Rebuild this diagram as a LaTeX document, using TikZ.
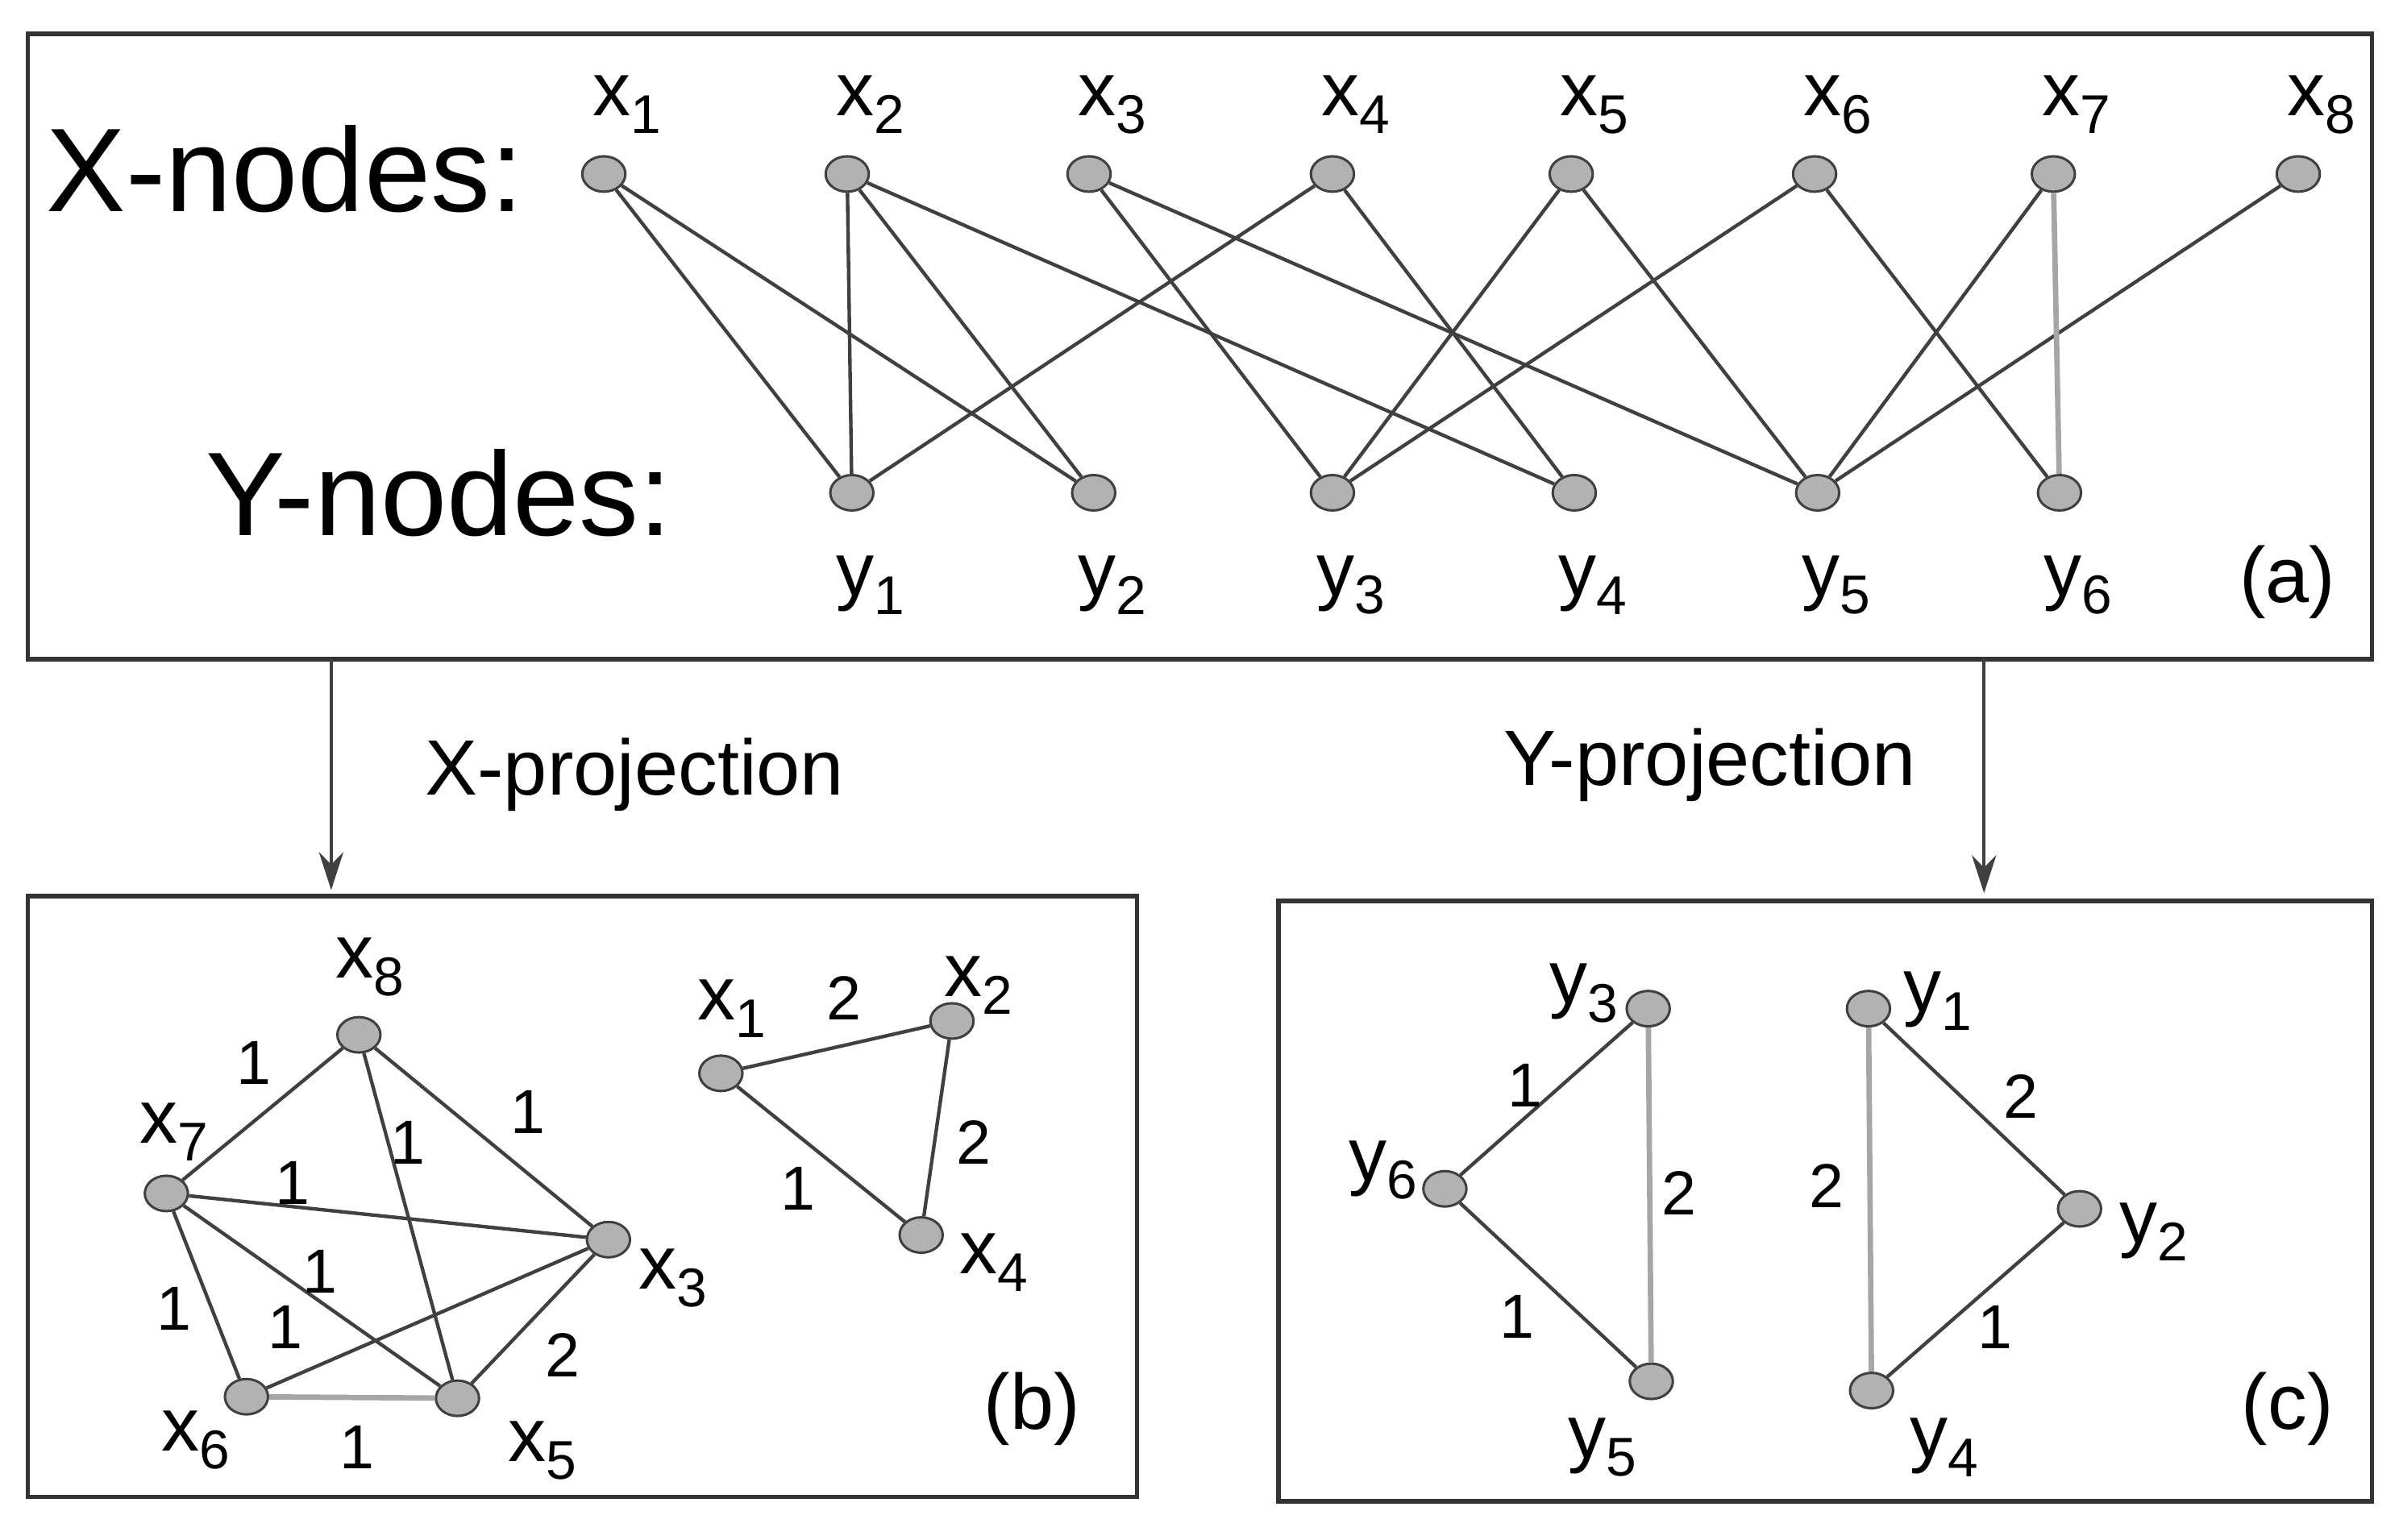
\documentclass[tikz,border=0pt]{standalone}
\usepackage{fontspec}
\setmainfont{Liberation Sans}
\usetikzlibrary{shapes.geometric,arrows.meta}
\newcommand\lb[2]{#1\raisebox{-0.45ex}{\scalebox{0.72}{#2}}}
\begin{document}
\begin{tikzpicture}[x=0.02cm,y=-0.02cm,
 v/.style={ellipse,draw=black!75,fill=black!30,line width=0.9pt,minimum width=0.56cm,minimum height=0.46cm,inner sep=0pt},
 e/.style={draw=black!75,line width=1.3pt},
 g/.style={draw=black!35,line width=2pt},
 box/.style={draw=black!80,line width=1.6pt},
 lab/.style={font=\fontsize{28}{30}\selectfont,inner sep=0pt},
 w/.style={font=\fontsize{23}{24}\selectfont,inner sep=0pt},
 big/.style={font=\fontsize{44}{48}\selectfont,inner sep=0pt},
 mid/.style={font=\fontsize{29}{32}\selectfont,inner sep=0pt}]
\useasboundingbox (0,0) rectangle (1560,1000);
\fill[white] (0,0) rectangle (1560,1000);
% box a
\draw[box] (18,22) rectangle (1540,428);
\node[big] (xn) at (185,110) {X-nodes:};
\node[big] (yn) at (285,320) {Y-nodes:};
\foreach \i/\x in {1/392,2/550,3/707,4/865,5/1020,6/1178,7/1333,8/1492}{
  \node[v] (x\i) at (\x,113) {};
  \node[lab] (lx\i) at (\x+15,68) {\lb{x}{\i}};}
\foreach \i/\x in {1/553,2/710,3/865,4/1022,5/1180,6/1337}{
  \node[v] (y\i) at (\x,320) {};
  \node[lab] (ly\i) at (\x+12,380) {\lb{y}{\i}};}
\node[mid] (la) at (1485,378) {(a)};
\foreach \a/\b in {x1/y1,x1/y2,x2/y1,x2/y2,x2/y4,x3/y3,x3/y5,x4/y1,x4/y4,x5/y3,x5/y5,x6/y3,x6/y6,x7/y5,x8/y5}
  \draw[e] (\a) -- (\b);
\draw[g] (x7) -- (y6);
% arrows
\coordinate (ab) at (215,428); \coordinate (bt) at (215,578);
\coordinate (ac) at (1288,428); \coordinate (ct) at (1288,580);
\draw[e,-{Stealth[length=14pt,width=9pt]}] (ab) -- (bt);
\draw[e,-{Stealth[length=14pt,width=9pt]}] (ac) -- (ct);
\node[mid] (xp) at (412,503) {X-projection};
\node[mid] (yp) at (1110,497) {Y-projection};
% box b
\draw[box] (18,582) rectangle (738,972);
\node[v] (b8) at (233,672) {}; \node[v] (b7) at (108,775) {};
\node[v] (b3) at (395,805) {}; \node[v] (b6) at (160,907) {};
\node[v] (b5) at (297,908) {}; \node[v] (b1) at (468,697) {};
\node[v] (b2) at (618,663) {}; \node[v] (b4) at (598,802) {};
\node[lab] at (240,628) {\lb{x}{8}};
\node[lab] at (113,735) {\lb{x}{7}};
\node[lab] at (437,830) {\lb{x}{3}};
\node[lab] at (127,935) {\lb{x}{6}};
\node[lab] at (352,942) {\lb{x}{5}};
\node[lab] at (475,655) {\lb{x}{1}};
\node[lab] at (635,640) {\lb{x}{2}};
\node[lab] at (645,820) {\lb{x}{4}};
\node[mid] at (670,915) {(b)};
\draw[e] (b7) -- (b8); \node[w] at (165,690) {1};
\draw[e] (b8) -- (b3); \node[w] at (343,722) {1};
\draw[e] (b8) -- (b5); \node[w] at (265,742) {1};
\draw[e] (b7) -- (b3); \node[w] at (190,768) {1};
\draw[e] (b7) -- (b5); \node[w] at (208,826) {1};
\draw[e] (b7) -- (b6); \node[w] at (113,850) {1};
\draw[e] (b6) -- (b3); \node[w] at (185,862) {1};
\draw[g] (b6) -- (b5); \node[w] at (232,940) {1};
\draw[e] (b5) -- (b3); \node[w] at (365,880) {2};
\draw[e] (b1) -- (b2); \node[w] at (548,648) {2};
\draw[e] (b2) -- (b4); \node[w] at (632,742) {2};
\draw[e] (b1) -- (b4); \node[w] at (518,772) {1};
% box c
\draw[box] (830,585) rectangle (1540,975);
\node[v] (c3) at (1070,655) {}; \node[v] (c6) at (938,772) {};
\node[v] (c5) at (1072,897) {}; \node[v] (c1) at (1213,655) {};
\node[v] (c2) at (1350,785) {}; \node[v] (c4) at (1215,903) {};
\node[lab] at (1028,645) {\lb{y}{3}};
\node[lab] at (898,760) {\lb{y}{6}};
\node[lab] at (1040,940) {\lb{y}{5}};
\node[lab] at (1258,650) {\lb{y}{1}};
\node[lab] at (1398,800) {\lb{y}{2}};
\node[lab] at (1262,940) {\lb{y}{4}};
\node[mid] at (1485,915) {(c)};
\draw[e] (c3) -- (c6); \node[w] at (990,705) {1};
\draw[e] (c6) -- (c5); \node[w] at (985,855) {1};
\draw[g] (c3) -- (c5); \node[w] at (1090,775) {2};
\draw[e] (c1) -- (c2); \node[w] at (1312,712) {2};
\draw[e] (c2) -- (c4); \node[w] at (1295,862) {1};
\draw[g] (c1) -- (c4); \node[w] at (1186,770) {2};
\end{tikzpicture}
\end{document}
